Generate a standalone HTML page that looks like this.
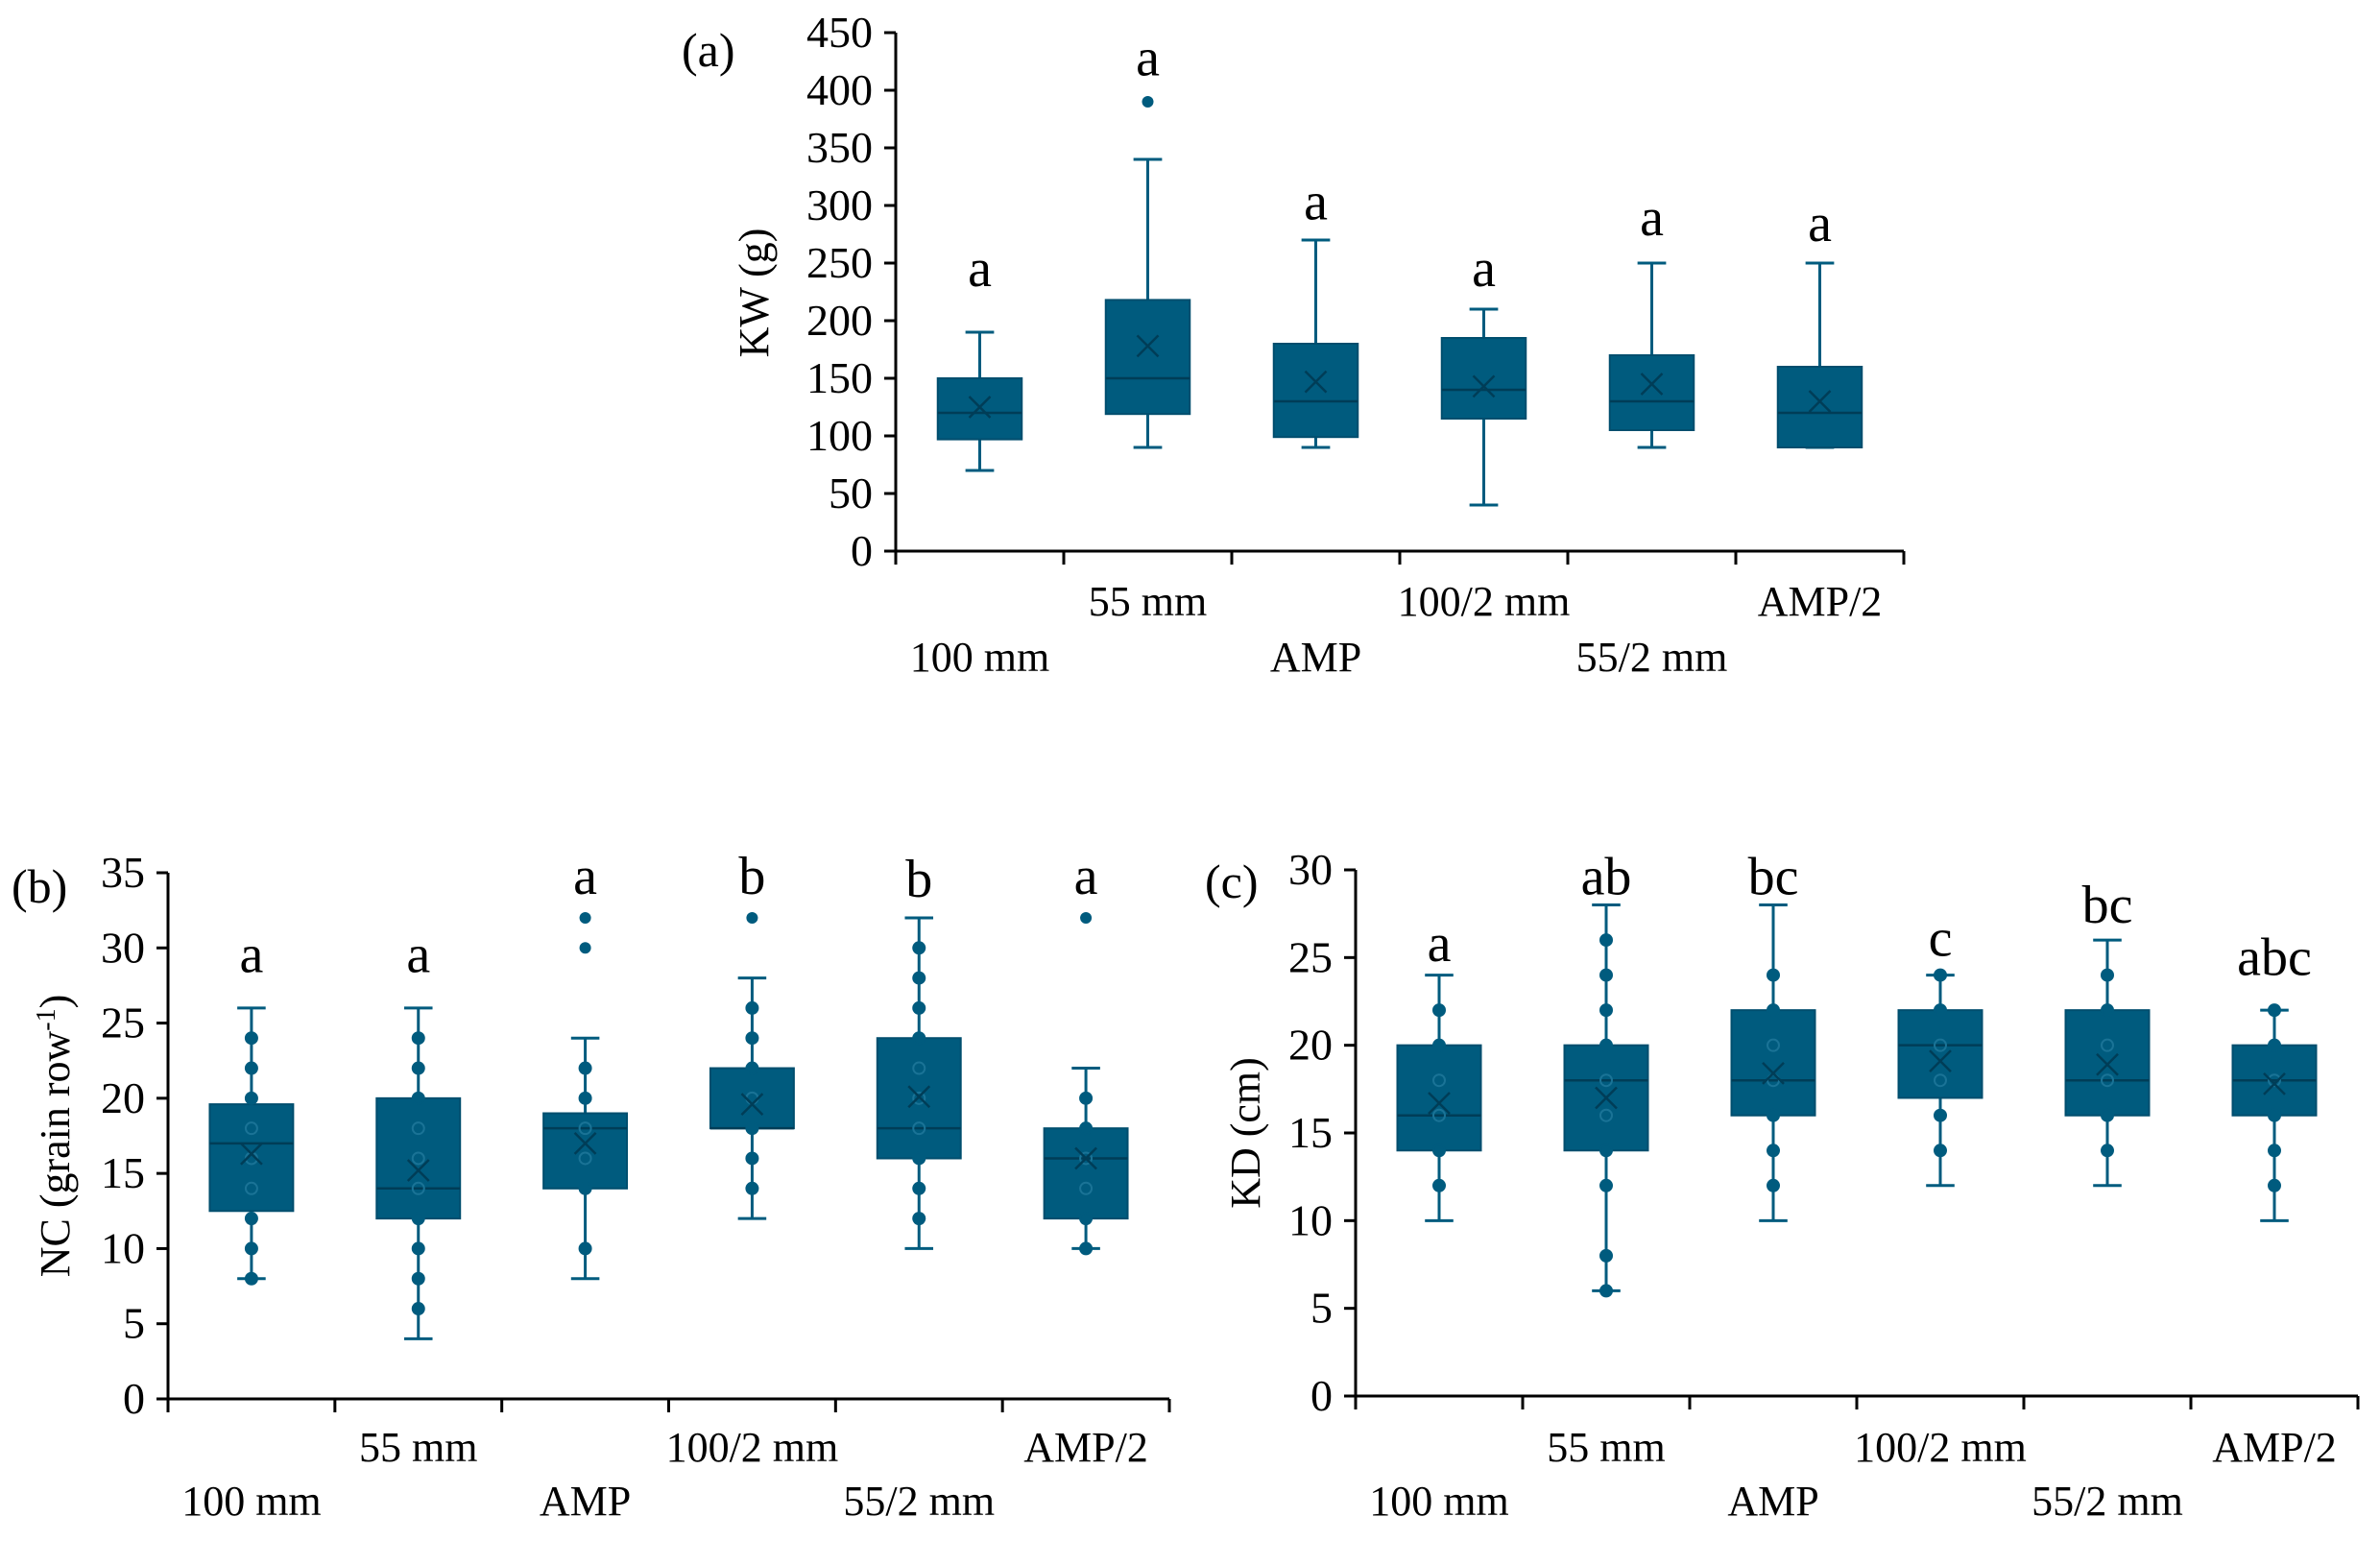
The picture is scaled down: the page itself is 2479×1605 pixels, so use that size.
<!DOCTYPE html>
<html><head><meta charset="utf-8"><style>
html,body{margin:0;padding:0;background:#fff;}
svg{display:block;}
svg text{font-family:"Liberation Serif",serif;}
</style></head><body>
<svg id="fig" width="2479" height="1605" viewBox="0 0 2479 1605" xmlns="http://www.w3.org/2000/svg"></svg>
<script>
// ---- shared categories ----
const categories = ["100 mm","55 mm","AMP","100/2 mm","55/2 mm","AMP/2"];

// ---- panel (a) KW data ----
const kwTicks = [0,50,100,150,200,250,300,350,400,450];
const kwMin = [70,90,90,40,90,90];
const kwQ1 = [97,119,99,115,105,90];
const kwMed = [120,150,130,140,130,120];
const kwQ3 = [150,218,180,185,170,160];
const kwMax = [190,340,270,210,250,250];
const kwMean = [125,178,147,143,145,130];
const kwOutliers = [[],[390],[],[],[],[]];
const kwPoints = [[],[],[],[],[],[]];
const kwLetters = ["a","a","a","a","a","a"];
const kwLetterVals = [230,413,288,230,274,269];

// ---- panel (b) NC data ----
const ncTicks = [0,5,10,15,20,25,30,35];
const ncMin = [8,4,8,12,10,10];
const ncQ1 = [12.5,12,14,18,16,12];
const ncMed = [17,14,18,18,18,16];
const ncQ3 = [19.6,20,19,22,24,18];
const ncMax = [26,26,24,28,32,22];
const ncMean = [16.3,15.2,17,19.6,20.1,16];
const ncOutliers = [[],[],[30,32],[32],[],[32]];
const ncPoints = [[8,10,12,14,16,18,20,22,24],[6,8,10,12,14,16,18,20,22,24],[10,14,16,18,20,22],[14,16,18,20,22,24,26],[12,14,16,18,20,22,24,26,28,30],[10,12,14,16,18,20]];
const ncLetters = ["a","a","a","b","b","a"];
const ncLetterVals = [28.4,28.4,33.6,33.6,33.4,33.6];

// ---- panel (c) KD data ----
const kdTicks = [0,5,10,15,20,25,30];
const kdMin = [10,6,10,12,12,10];
const kdQ1 = [14,14,16,17,16,16];
const kdMed = [16,18,18,20,18,18];
const kdQ3 = [20,20,22,22,22,20];
const kdMax = [24,28,28,24,26,22];
const kdMean = [16.7,17,18.4,19.1,18.9,17.8];
const kdOutliers = [[],[],[],[],[],[]];
const kdPoints = [[12,14,16,18,20,22],[6,8,12,14,16,18,20,22,24,26],[12,14,16,18,20,22,24],[14,16,18,20,22,24],[14,16,18,20,22,24],[12,14,16,18,20,22]];
const kdLetters = ["a","ab","bc","c","bc","abc"];
const kdLetterVals = [24.8,28.6,28.6,25.1,27.0,24.0];

const NS="http://www.w3.org/2000/svg";
const svg=document.getElementById('fig');
const COL="#005b7e";
function mk(tag,attrs,parent){const e=document.createElementNS(NS,tag);for(const k in attrs)e.setAttribute(k,attrs[k]);(parent||svg).appendChild(e);return e;}

function drawPanel(p){
  const g=mk('g',{});
  
  
  const yMaxV=p.ticks[p.ticks.length-1];
  const y=v=>p.y0-(v/yMaxV)*(p.y0-p.yTop);
  const cw=(p.xR-p.x0)/categories.length;
  const xc=i=>p.x0+cw*(i+0.5);
  const ya=mk('line',{x1:p.x0,y1:p.yTop,x2:p.x0,y2:p.y0,stroke:"#000","stroke-width":3},g);
  
  
  const xa=mk('line',{x1:p.x0-12,y1:p.y0,x2:p.xR,y2:p.y0,stroke:"#000","stroke-width":3},g);
  
  
  p.ticks.forEach(t=>{
    mk('line',{x1:p.x0-12,y1:y(t),x2:p.x0,y2:y(t),stroke:"#000","stroke-width":3},g);
    const tl=mk('text',{x:p.x0-24,y:y(t)+15,"text-anchor":"end","font-size":46},g);
    tl.textContent=t;
    
    
  });
  for(let i=0;i<=categories.length;i++){
    mk('line',{x1:p.x0+cw*i,y1:p.y0,x2:p.x0+cw*i,y2:p.y0+14,stroke:"#000","stroke-width":3},g);
  }
  categories.forEach((c,i)=>{
    const t=mk('text',{x:xc(i),y:(i%2===0)?p.labLow:p.labHigh,"text-anchor":"middle","font-size":44},g);
    t.textContent=c;
    
    
  });
  const yt=mk('text',{x:0,y:0,"text-anchor":"middle","font-size":44,transform:`translate(${p.ytX},${p.ytY}) rotate(-90)`},g);
  yt.innerHTML=p.ytitle;
  
  
  const pl=mk('text',{x:p.plX,y:p.plY,"font-size":50},g);
  pl.textContent=p.plabel;
  
  
  const bw=cw*0.5, cap=cw*0.17;
  categories.forEach((c,i)=>{
    const bx=mk('g',{},g);
    
    
    const x=xc(i);
    mk('line',{x1:x,y1:y(p.max[i]),x2:x,y2:y(p.min[i]),stroke:COL,"stroke-width":3},bx);
    mk('line',{x1:x-cap/2,y1:y(p.max[i]),x2:x+cap/2,y2:y(p.max[i]),stroke:COL,"stroke-width":3},bx);
    mk('line',{x1:x-cap/2,y1:y(p.min[i]),x2:x+cap/2,y2:y(p.min[i]),stroke:COL,"stroke-width":3},bx);
    mk('rect',{x:x-bw/2,y:y(p.q3[i]),width:bw,height:y(p.q1[i])-y(p.q3[i]),fill:COL,stroke:"#004e6e","stroke-width":2},bx);
    mk('line',{x1:x-bw/2,y1:y(p.med[i]),x2:x+bw/2,y2:y(p.med[i]),stroke:"#003d57","stroke-width":2.5},bx);
    p.pts[i].forEach(v=>{
      const inside=v>p.q1[i]&&v<p.q3[i];
      mk('circle',{cx:x,cy:y(v),r:6,fill:inside?"none":COL,stroke:inside?"#1a7396":COL,"stroke-width":2},bx);
    });
    p.out[i].forEach(v=>{mk('circle',{cx:x,cy:y(v),r:6,fill:COL},bx);});
    const my=y(p.mean[i]),s=11;
    mk('path',{d:`M${x-s} ${my-s}L${x+s} ${my+s}M${x-s} ${my+s}L${x+s} ${my-s}`,stroke:"#003d57","stroke-width":2.5},bx);
    const lt=mk('text',{x:x,y:y(p.letVals[i]),"text-anchor":"middle","font-size":56},bx);
    lt.textContent=p.letters[i];
    
    
  });
}

drawPanel({name:"panel-a-kw",ticks:kwTicks,min:kwMin,q1:kwQ1,med:kwMed,q3:kwQ3,max:kwMax,mean:kwMean,out:kwOutliers,pts:kwPoints,letters:kwLetters,letVals:kwLetterVals,
  x0:933,xR:1983,y0:574,yTop:34,labHigh:641,labLow:699,ytitle:"KW (g)",ytX:800,ytY:305,plabel:"(a)",plX:710,plY:69});
drawPanel({name:"panel-b-nc",ticks:ncTicks,min:ncMin,q1:ncQ1,med:ncMed,q3:ncQ3,max:ncMax,mean:ncMean,out:ncOutliers,pts:ncPoints,letters:ncLetters,letVals:ncLetterVals,
  x0:175,xR:1218,y0:1457,yTop:909,labHigh:1522,labLow:1578,ytitle:'NC (grain row<tspan baseline-shift="super" font-size="28">-1</tspan>)',ytX:72,ytY:1183,plabel:"(b)",plX:12,plY:940});
drawPanel({name:"panel-c-kd",ticks:kdTicks,min:kdMin,q1:kdQ1,med:kdMed,q3:kdQ3,max:kdMax,mean:kdMean,out:kdOutliers,pts:kdPoints,letters:kdLetters,letVals:kdLetterVals,
  x0:1412,xR:2456,y0:1454,yTop:906,labHigh:1522,labLow:1578,ytitle:"KD (cm)",ytX:1312,ytY:1180,plabel:"(c)",plX:1255,plY:935});
</script>
</body></html>
